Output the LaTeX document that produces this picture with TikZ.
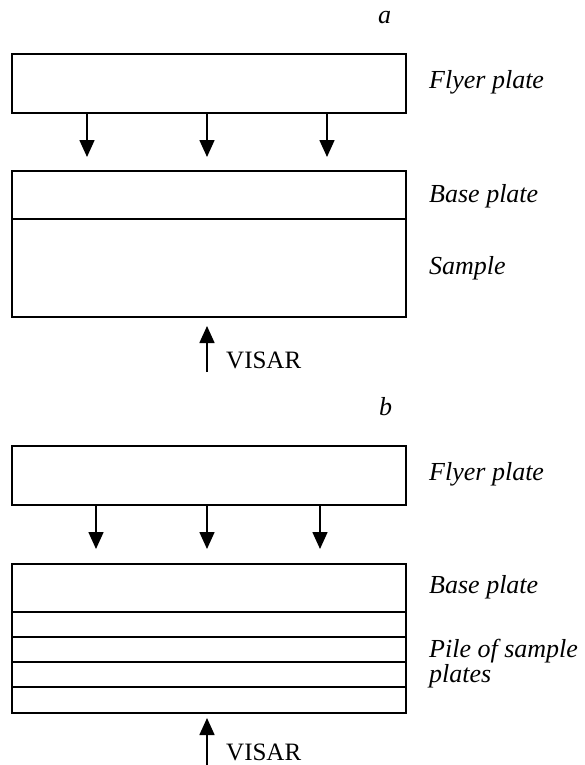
\documentclass[tikz,border=0pt]{standalone}
\usepackage{fontspec}
\setmainfont{Liberation Serif}
\usetikzlibrary{arrows.meta}
\tikzset{
  plate/.style={draw, line width=1.6pt, inner sep=0pt, minimum width=394pt, anchor=north west},
  layer/.style={line width=1.6pt},
  impact/.style={line width=1.6pt, -{Triangle[length=17pt,width=15pt]}},
  lbl/.style={anchor=base west, inner sep=0pt, font=\fontsize{26}{22}\selectfont\itshape},
  vis/.style={anchor=base west, inner sep=0pt, font=\fontsize{25}{25}\selectfont},
}
\begin{document}
\begin{tikzpicture}[x=1pt,y=-1pt]
\useasboundingbox (0,0) rectangle (585,765);
% ---- panel a ----
\node[lbl] (la) at (378,24) {a};
\node[plate, minimum height=59pt] (flyA) at (11,53) {};
\node[plate, minimum height=146pt] (baseA) at (11,170) {};
\draw[layer] (baseA.west |- 0,219) -- (baseA.east |- 0,219);
\coordinate (ta1) at (87,157); \coordinate (ta2) at (207,157); \coordinate (ta3) at (327,157);
\draw[impact] (flyA.south -| ta1) -- (ta1);
\draw[impact] (flyA.south -| ta2) -- (ta2);
\draw[impact] (flyA.south -| ta3) -- (ta3);
\node[lbl] (flyAl) at (429,89) {Flyer plate};
\node[lbl] (baseAl) at (429,202) {Base plate};
\node[lbl] (sampAl) at (429,274) {Sample};
\coordinate (va0) at (207,372); \coordinate (va1) at (207,326);
\draw[impact] (va0) -- (va1);
\node[vis] (visA) at (226,368) {VISAR};
% ---- panel b ----
\node[lbl] (lb) at (379,415) {b};
\node[plate, minimum height=149pt] (baseB) at (11,563) {};
\node[plate, minimum height=59pt] (flyB) at (11,445) {};
\foreach \yy in {612,637,662,687}{
  \draw[layer] (baseB.west |- 0,\yy) -- (baseB.east |- 0,\yy);
}
\coordinate (tb1) at (96,549); \coordinate (tb2) at (207,549); \coordinate (tb3) at (320,549);
\draw[impact] (flyB.south -| tb1) -- (tb1);
\draw[impact] (flyB.south -| tb2) -- (tb2);
\draw[impact] (flyB.south -| tb3) -- (tb3);
\node[lbl] (flyBl) at (429,480) {Flyer plate};
\node[lbl] (baseBl) at (429,593) {Base plate};
\node[lbl] (pileBl) at (429,657) {Pile of sample};
\node[lbl] (pileBl2) at (429,682) {plates};
\coordinate (vb0) at (207,766); \coordinate (vb1) at (207,718);
\draw[impact] (vb0) -- (vb1);
\node[vis] (visB) at (226,760) {VISAR};
\end{tikzpicture}
\end{document}
